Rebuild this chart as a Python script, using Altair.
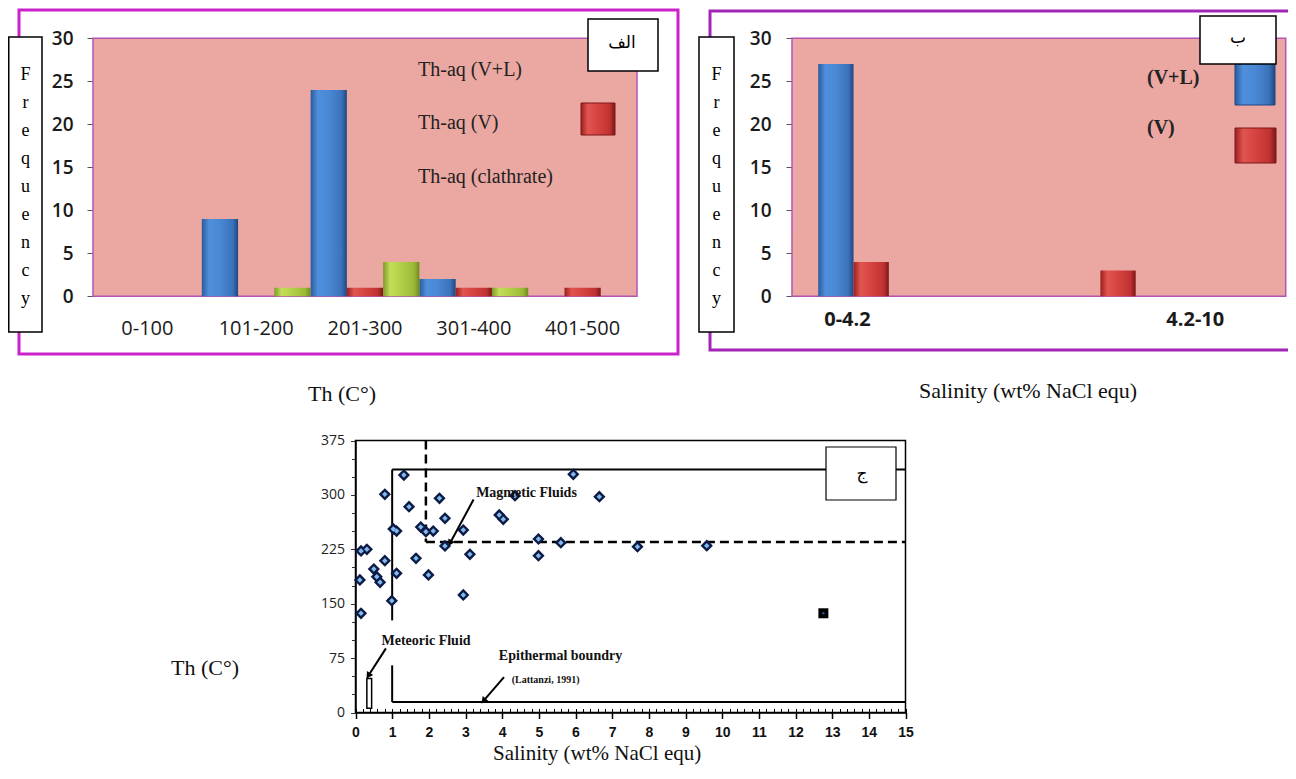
import math
import altair as alt
import pandas as pd

# ------------------------------------------------------------------
# Data
# ------------------------------------------------------------------
# Panel "الف": homogenisation temperature classes
th_classes = ["0-100", "101-200", "201-300", "301-400", "401-500"]
th_series = ["Th-aq (V+L)", "Th-aq (V)", "Th-aq (clathrate)"]
th_vl = [0, 9, 24, 2, 0]
th_v = [0, 0, 1, 1, 1]
th_clathrate = [0, 1, 4, 1, 0]

# Panel "ب": salinity classes
sal_classes = ["0-4.2", "4.2-10"]
sal_series = ["(V+L)", "(V)"]
sal_vl = [27, 0]
sal_v = [4, 3]

# Panel "ج": salinity (wt% NaCl equ) vs Th
pts_salinity = [0.15, 0.12, 0.15, 0.31, 0.50, 0.58, 0.67, 0.80, 0.80, 0.99,
                1.12, 1.03, 1.12, 1.32, 1.46, 1.65, 1.78, 1.92, 2.12, 1.99,
                2.29, 2.44, 2.44, 2.94, 2.94, 3.12, 3.92, 4.03, 4.35, 4.99,
                4.99, 5.60, 5.94, 6.65, 7.69, 9.58]
pts_th = [136.8, 182.7, 222.7, 225.0, 197.8, 187.3, 179.5, 209.3, 300.8, 154.1,
          191.9, 253.0, 250.2, 327.4, 283.7, 212.6, 255.7, 249.3, 250.2, 189.6,
          295.3, 267.7, 229.6, 251.6, 162.0, 218.1, 272.3, 266.4, 298.9, 239.2,
          216.2, 234.1, 328.4, 297.5, 228.6, 230.0]
sq_salinity = [12.76]
sq_th = [136.8]

# field boundaries (Lattanzi, 1991)
seg_x1 = [1.0, 1.0, 1.0, 1.0, 1.92, 1.92]
seg_y1 = [127.0, 335.0, 65.0, 14.5, 375.0, 235.0]
seg_x2 = [1.0, 15.0, 1.0, 15.0, 1.92, 15.0]
seg_y2 = [335.0, 335.0, 14.5, 14.5, 235.0, 235.0]
seg_kind = ["solid", "solid", "solid", "solid", "dashed", "dashed"]

meteoric_box_x = [0.31, 0.44]
meteoric_box_y = [6.0, 47.0]

ann_labels = ["Magmetic Fluids", "Meteoric Fluid", "Epithermal boundry"]
ann_x = [3.29, 0.71, 3.91]
ann_y = [302.0, 98.6, 77.9]
ref_label = ["(Lattanzi, 1991)"]
ref_x = [4.26]
ref_y = [44.8]

arr_x_from = [3.22, 0.83, 4.05]
arr_y_from = [293.6, 88.4, 48.9]
arr_x_to = [2.58, 0.35, 3.49]
arr_y_to = [233.6, 50.7, 15.9]

# axis tick positions of the scatter panel
x_major = list(range(0, 16))
x_minor = [round(i * 0.2, 1) for i in range(76)]
y_major = [0, 75, 150, 225, 300, 375]
y_minor = list(range(0, 376, 25))

# ------------------------------------------------------------------
# Layout (canvas pixels) and styles
# ------------------------------------------------------------------
W, H = 1280, 760
A_L, A_R, A_B, A_T = 85.0, 629.0, 288.3, 30.3
B_L, B_R, B_B, B_T = 784.0, 1277.7, 288.3, 30.3
C_L, C_R, C_B, C_T = 347.5, 897.5, 704.5, 432.5

PINK = "#eba7a1"
PINK_EDGE = "#b455b4"
MAG_A = "#cc22cc"
MAG_B = "#a126b5"
SERIF = "Liberation Serif"
SANS = "Open Sans"


def hgrad(stops):
    return alt.LinearGradient(
        gradient="linear", x1=0, x2=1, y1=0, y2=0,
        stops=[alt.GradientStop(color=c, offset=o) for o, c in stops])


BLUE = hgrad([(0, "#2a5c9e"), (0.2, "#4f8fdc"), (0.5, "#4a88d4"), (0.85, "#3b73bb"), (1, "#1f4680")])
RED = hgrad([(0, "#9a1f1f"), (0.2, "#e05450"), (0.5, "#d64340"), (0.85, "#bf3232"), (1, "#7e1616")])
GREEN = hgrad([(0, "#7f9a28"), (0.2, "#c4dd5a"), (0.5, "#b3cf48"), (0.85, "#9ab936"), (1, "#6f8a20")])

one = pd.DataFrame({"k": [0]})


def box(x0, x1, y0, y1, **kw):
    return alt.Chart(one).mark_rect(**kw).encode(
        x=alt.value(x0), x2=alt.value(x1), y=alt.value(y0), y2=alt.value(y1))


def label(txt, x, y, **kw):
    return alt.Chart(one).mark_text(text=txt, **kw).encode(x=alt.value(x), y=alt.value(y))


def freq_box(x0, x1):
    cx = (x0 + x1) / 2
    return [
        box(x0, x1, 29, 324, fill="white", stroke="black", strokeWidth=1.5),
        label("F\nr\ne\nq\nu\ne\nn\nc\ny", cx, 57.6, lineBreak="\n", lineHeight=28,
              align="center", baseline="top", font=SERIF, fontSize=18, color="black"),
    ]


# ------------------------------------------------------------------
# Panel الف
# ------------------------------------------------------------------
rowsA = []
for s, vals in zip(th_series, [th_vl, th_v, th_clathrate]):
    for c, v in zip(th_classes, vals):
        rowsA.append({"cls": c, "series": s, "n": v})
dfA = pd.DataFrame(rowsA)

xA = alt.X("cls:N", sort=th_classes, title=None,
           scale=alt.Scale(domain=th_classes, range=[A_L, A_R], paddingInner=0, paddingOuter=0),
           axis=alt.Axis(orient="bottom", offset=A_B - H, domain=False, ticks=False,
                         labelPadding=22, labelAngle=0, labelFont=SANS, labelFontSize=20,
                         labelColor="#1a1a1a", grid=False))
yA = alt.Y("n:Q", title=None,
           scale=alt.Scale(domain=[0, 30], range=[A_B, A_T], nice=False),
           axis=alt.Axis(orient="left", offset=-A_L, values=[0, 5, 10, 15, 20, 25, 30],
                         domain=False, grid=False, tickSize=6, tickColor="#555",
                         labelPadding=14, labelFont=SANS, labelFontSize=19,
                         labelFontWeight=600, labelColor="#1a1a1a"))
xoA = alt.XOffset("series:N", sort=th_series,
                  scale=alt.Scale(domain=th_series, paddingInner=0, paddingOuter=0))

barsA = alt.layer(*[
    alt.Chart(dfA).transform_filter((alt.datum.series == s) & (alt.datum.n > 0))
    .mark_bar(fill=g).encode(x=xA, y=yA, xOffset=xoA)
    for s, g in zip(th_series, [BLUE, RED, GREEN])
])

panelA = [
    box(11, 670, 2, 346, fillOpacity=0, stroke=MAG_A, strokeWidth=3),
    box(A_L, A_R, A_T, A_B, fill=PINK, stroke=PINK_EDGE, strokeWidth=1.5),
    barsA,
    label(th_series[0], 410, 62, align="left", font=SERIF, fontSize=20, color="#222"),
    label(th_series[1], 410, 115, align="left", font=SERIF, fontSize=20, color="#222"),
    label(th_series[2], 410, 169, align="left", font=SERIF, fontSize=20, color="#222"),
    box(573, 607, 95, 127, fill=RED, stroke="#7e1616", strokeWidth=1),
    box(580, 650, 11, 63, fill="white", stroke="black", strokeWidth=1.5),
    label("الف", 614, 35, font="DejaVu Sans", fontSize=17, color="black"),
    *freq_box(0.75, 34),
    label("Th (C°)", 334, 393, baseline="alphabetic", font=SERIF, fontSize=22, color="#111"),
]

# ------------------------------------------------------------------
# Panel ب
# ------------------------------------------------------------------
rowsB = []
for s, vals in zip(sal_series, [sal_vl, sal_v]):
    for c, v in zip(sal_classes, vals):
        rowsB.append({"cls": c, "series": s, "n": v})
dfB = pd.DataFrame(rowsB)

# offset slots: the two drawn series followed by empty slots to the right
offset_slots_B = sal_series + ["_s3", "_s4", "_s5"]

xB = alt.X("cls:N", sort=sal_classes, title=None,
           scale=alt.Scale(domain=sal_classes, range=[B_L, B_R], paddingInner=0, paddingOuter=0),
           axis=alt.Axis(orient="bottom", offset=B_B - H, domain=False, ticks=False,
                         labelPadding=13, labelAngle=0, labelFont=SANS, labelFontSize=20,
                         labelFontWeight="bold", labelColor="#1a1a1a", grid=False,
                         labelOffset={"condition": {"test": "datum.value === '0-4.2'", "value": -68},
                                      "value": 33}))
yB = alt.Y("n:Q", title=None,
           scale=alt.Scale(domain=[0, 30], range=[B_B, B_T], nice=False),
           axis=alt.Axis(orient="left", offset=-B_L, values=[0, 5, 10, 15, 20, 25, 30],
                         domain=False, grid=False, tickSize=6, tickColor="#555",
                         labelPadding=15, labelFont=SANS, labelFontSize=19,
                         labelFontWeight=600, labelColor="#1a1a1a"))
xoB = alt.XOffset("series:N", sort=offset_slots_B,
                  scale=alt.Scale(domain=offset_slots_B, paddingInner=0, paddingOuter=0.996,
                                  align=0.373))

barsB = alt.layer(*[
    alt.Chart(dfB).transform_filter((alt.datum.series == s) & (alt.datum.n > 0))
    .mark_bar(fill=g).encode(x=xB, y=yB, xOffset=xoB)
    for s, g in zip(sal_series, [BLUE, RED])
])

panelB = [
    box(702, 1300, 3, 342, fillOpacity=0, stroke=MAG_B, strokeWidth=3),
    box(B_L, B_R, B_T, B_B, fill=PINK, stroke=PINK_EDGE, strokeWidth=1.5),
    barsB,
    label(sal_series[0], 1139, 70, align="left", font=SERIF, fontWeight="bold", fontSize=20, color="#222"),
    label(sal_series[1], 1139, 120, align="left", font=SERIF, fontWeight="bold", fontSize=20, color="#222"),
    box(1227, 1267, 55, 97, fill=BLUE, stroke="#1f4680", strokeWidth=1),
    box(1227, 1268, 120, 155, fill=RED, stroke="#7e1616", strokeWidth=1),
    box(1192, 1268, 8, 56, fill="white", stroke="black", strokeWidth=1.5),
    label("ب", 1230, 30, font="DejaVu Sans", fontSize=17, color="black"),
    *freq_box(691, 726),
    label("Salinity (wt% NaCl equ)", 911, 390, align="left", baseline="alphabetic",
          font=SERIF, fontSize=22, color="#111"),
]

# ------------------------------------------------------------------
# Panel ج
# ------------------------------------------------------------------
xs = alt.Scale(domain=[0, 15], range=[C_L, C_R], nice=False, zero=False)
ys = alt.Scale(domain=[0, 375], range=[C_B, C_T], nice=False, zero=False)

df_pts = pd.DataFrame({"sal": pts_salinity, "th": pts_th})
df_sq = pd.DataFrame({"sal": sq_salinity, "th": sq_th})
df_seg = pd.DataFrame({"x1": seg_x1, "y1": seg_y1, "x2": seg_x2, "y2": seg_y2, "kind": seg_kind})
df_frame = pd.DataFrame({"x1": [0.0], "x2": [15.0], "y1": [0.0], "y2": [375.0]})
df_met = pd.DataFrame({"x1": [meteoric_box_x[0]], "x2": [meteoric_box_x[1]],
                       "y1": [meteoric_box_y[0]], "y2": [meteoric_box_y[1]]})
df_ann = pd.DataFrame({"x": ann_x, "y": ann_y, "t": ann_labels})
df_ref = pd.DataFrame({"x": ref_x, "y": ref_y, "t": ref_label})

kx = (C_R - C_L) / 15.0
ky = (C_B - C_T) / 375.0
angles = []
for xf, yf, xt, yt in zip(arr_x_from, arr_y_from, arr_x_to, arr_y_to):
    dx = (xt - xf) * kx
    dy = -(yt - yf) * ky
    angles.append(math.degrees(math.atan2(dx, -dy)) % 360)
df_arr = pd.DataFrame({"x1": arr_x_from, "y1": arr_y_from, "x2": arr_x_to, "y2": arr_y_to,
                       "ang": angles})


def segs(df, **kw):
    return alt.Chart(df).mark_rule(**kw).encode(
        x=alt.X("x1:Q", scale=xs, axis=None), x2="x2:Q",
        y=alt.Y("y1:Q", scale=ys, axis=None), y2="y2:Q")


frameC = alt.Chart(df_frame).mark_rect(fillOpacity=0, stroke="black", strokeWidth=1.5).encode(
    x=alt.X("x1:Q", scale=xs, axis=None), x2="x2:Q",
    y=alt.Y("y1:Q", scale=ys, axis=None), y2="y2:Q")
solid = segs(df_seg[df_seg.kind == "solid"], color="black", strokeWidth=2)
dashed = segs(df_seg[df_seg.kind == "dashed"], color="black", strokeWidth=2.5, strokeDash=[9, 5])
met = alt.Chart(df_met).mark_rect(fill="white", stroke="black", strokeWidth=1.5).encode(
    x=alt.X("x1:Q", scale=xs, axis=None), x2="x2:Q",
    y=alt.Y("y1:Q", scale=ys, axis=None), y2="y2:Q")
arr_lines = segs(df_arr, color="black", strokeWidth=2)
arr_heads = alt.Chart(df_arr).mark_point(shape="triangle-up", filled=True, color="black",
                                         size=55, opacity=1).encode(
    x=alt.X("x2:Q", scale=xs, axis=None), y=alt.Y("y2:Q", scale=ys, axis=None),
    angle=alt.Angle("ang:Q", scale=None))
pts_outer = alt.Chart(df_pts).mark_point(shape="diamond", filled=True, color="#0c1a45",
                                         size=150, opacity=1).encode(
    x=alt.X("sal:Q", scale=xs, axis=None), y=alt.Y("th:Q", scale=ys, axis=None))
pts_inner = alt.Chart(df_pts).mark_point(shape="diamond", filled=True, color="#7fbaee",
                                         size=30, opacity=1).encode(
    x=alt.X("sal:Q", scale=xs, axis=None), y=alt.Y("th:Q", scale=ys, axis=None))
sq = alt.Chart(df_sq).mark_point(shape="square", filled=True, color="black",
                                 size=100, opacity=1).encode(
    x=alt.X("sal:Q", scale=xs, axis=None), y=alt.Y("th:Q", scale=ys, axis=None))
sq_dot = alt.Chart(df_sq).mark_point(shape="circle", filled=True, color="#2a4fa0",
                                     size=6, opacity=1).encode(
    x=alt.X("sal:Q", scale=xs, axis=None), y=alt.Y("th:Q", scale=ys, axis=None))
ann = alt.Chart(df_ann).mark_text(align="left", baseline="middle", font=SERIF,
                                  fontWeight="bold", fontSize=14, color="#111").encode(
    x=alt.X("x:Q", scale=xs, axis=None), y=alt.Y("y:Q", scale=ys, axis=None), text="t:N")
ref = alt.Chart(df_ref).mark_text(align="left", baseline="middle", font=SERIF,
                                  fontWeight="bold", fontSize=10, color="#111").encode(
    x=alt.X("x:Q", scale=xs, axis=None), y=alt.Y("y:Q", scale=ys, axis=None), text="t:N")

scatterC = alt.layer(frameC, solid, dashed, met, arr_lines, arr_heads,
                     pts_outer, pts_inner, sq, sq_dot, ann, ref)

# axes of the scatter panel, carried by invisible point layers
axis_major = alt.Chart(df_pts).mark_point(opacity=0).encode(
    x=alt.X("sal:Q", scale=xs, title=None,
            axis=alt.Axis(orient="bottom", offset=C_B - H, values=x_major, grid=False,
                          tickSize=6, tickColor="black", tickWidth=1.5,
                          domainColor="black", domainWidth=1.5,
                          labelFont="Liberation Sans", labelFontWeight="bold", labelFontSize=14,
                          labelColor="#111", labelPadding=7, labelFlush=False)),
    y=alt.Y("th:Q", scale=ys, title=None,
            axis=alt.Axis(orient="left", offset=-C_L, values=y_major, grid=False,
                          tickSize=5, tickColor="#333", domainColor="black", domainWidth=1.5,
                          labelFont=SANS, labelFontSize=14, labelColor="#222",
                          labelPadding=6, labelFlush=False)),
)
# minor ticks: x ones point into the plot (top-oriented axis moved onto the x axis line)
axis_minor = alt.Chart(df_pts).mark_point(opacity=0).encode(
    x=alt.X("sal:Q", scale=xs, title=None,
            axis=alt.Axis(orient="top", offset=-C_B, values=x_minor, grid=False,
                          tickSize=4, tickColor="black", domain=False, labels=False)),
    y=alt.Y("th:Q", scale=ys, title=None,
            axis=alt.Axis(orient="left", offset=-C_L, values=y_minor, grid=False,
                          tickSize=4, tickColor="#333", domain=False, labels=False)),
)

panelC = [
    scatterC,
    axis_major,
    axis_minor,
    box(818, 888, 439, 492, fill="white", stroke="black", strokeWidth=1.2),
    label("ج", 854, 466, font="DejaVu Sans", fontSize=17, color="black"),
    label("Th (C°)", 197, 667, baseline="alphabetic", font=SERIF, fontSize=22, color="#111"),
    label("Salinity (wt% NaCl equ)", 485, 752, align="left", baseline="alphabetic",
          font=SERIF, fontSize=21, color="#111"),
]

chart = alt.layer(*panelA, *panelB, *panelC).resolve_scale(
    x="independent", y="independent", xOffset="independent"
).properties(
    width=W, height=H, padding=0, background="white",
    autosize=alt.AutoSizeParams(type="none"),
).configure_view(stroke="transparent")

chart.save("out.html", embed_options={"renderer": "svg", "actions": False})
